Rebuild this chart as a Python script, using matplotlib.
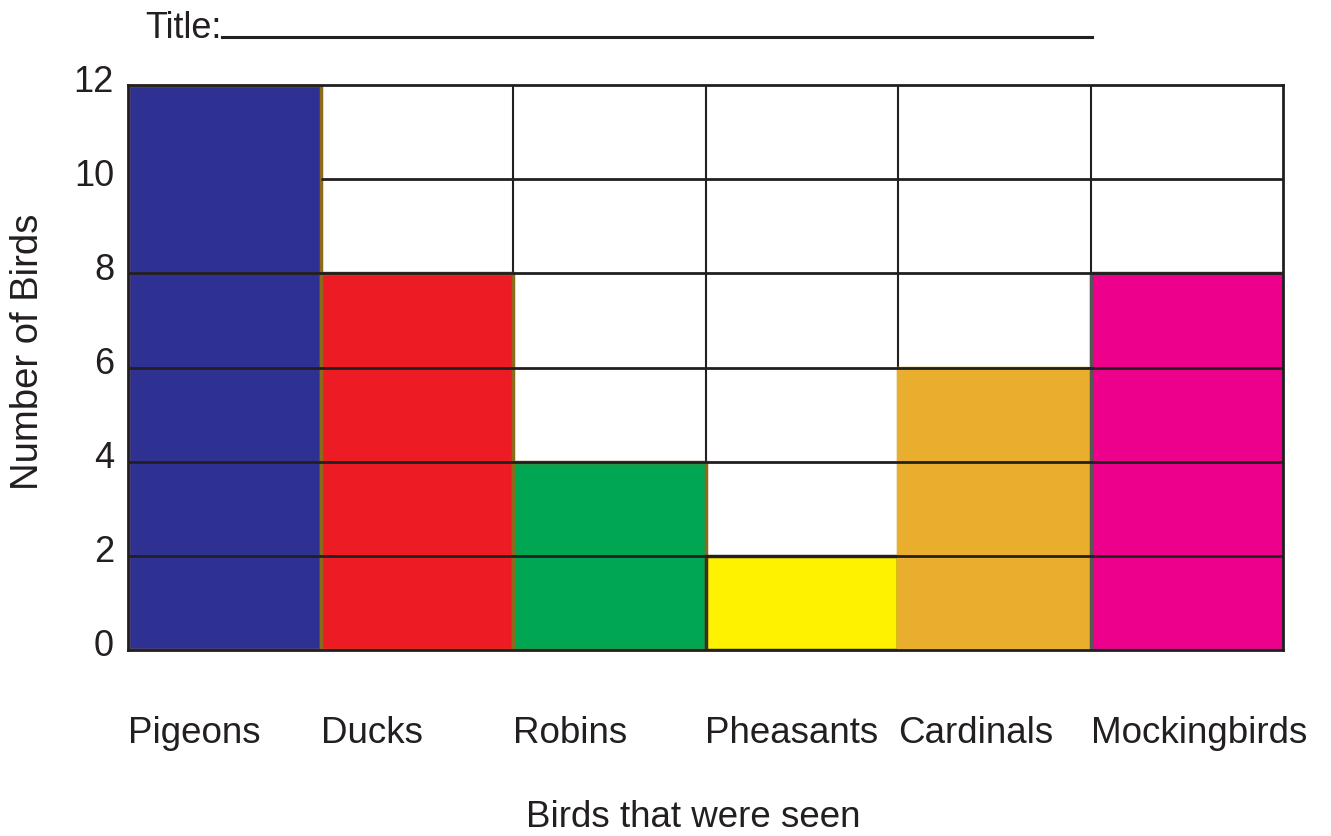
import matplotlib.pyplot as plt
from matplotlib.lines import Line2D
import matplotlib.transforms as mtransforms

plt.rcParams['font.family'] = ['Liberation Sans', 'DejaVu Sans']

# data
birds = ['Pigeons', 'Ducks', 'Robins', 'Pheasants', 'Cardinals', 'Mockingbirds']
counts = [12, 8, 4, 2, 6, 8]
bar_colors = ['#2e3192', '#ed1c24', '#00a651', '#fff200', '#e9ae2e', '#ec008c']
edge_colors = ['#8c6a1c', '#8c6a1c', '#8c6a1c', '#3a3220', '#e9ae2e', '#555555']
y_ticks = [0, 2, 4, 6, 8, 10, 12]

fig = plt.figure(figsize=(13.31, 8.37), dpi=100)
ax = fig.add_axes([128 / 1331, 1 - 651 / 837, (1283 - 128) / 1331, (651 - 86) / 837])

x_pos = [i + 0.5 for i in range(len(birds))]
ax.bar(x_pos, counts, width=1.0, color=bar_colors, edgecolor=edge_colors,
       linewidth=2.5, zorder=2)

# grid drawn on top of the bars, like the worksheet
for y in y_ticks[1:-1]:
    start = 1 if y == 10 else 0
    ax.hlines(y, start, len(birds), color='#231f20', linewidth=2, zorder=3)
ax.vlines(range(1, len(birds)), 0, 12, color='#231f20', linewidth=1.5, zorder=1)

ax.set_xlim(0, len(birds))
ax.set_ylim(0, 12)
for s in ax.spines.values():
    s.set_color('#231f20')
    s.set_linewidth(2)
    s.set_zorder(4)

# y tick labels sit a bit above their lines
ax.set_yticks(y_ticks)
ax.set_yticklabels([str(t) for t in y_ticks], fontsize=26, color='#231f20')
ax.tick_params(axis='y', length=0, pad=10)
offset = mtransforms.ScaledTranslation(0, 8 / 100, fig.dpi_scale_trans)
for lbl in ax.get_yticklabels():
    lbl.set_transform(lbl.get_transform() + offset)

# category labels start at the left edge of each column
ax.set_xticks(range(len(birds)))
ax.set_xticklabels(birds, fontsize=26.5, color='#231f20', ha='left')
ax.tick_params(axis='x', length=0, pad=47)

fig.text(28 / 1331, 1 - 352 / 837, 'Number of Birds', rotation=90,
         fontsize=27.5, color='#231f20', ha='center', va='center')
fig.text(693 / 1331, 1 - 818 / 837, 'Birds that were seen',
         fontsize=26.5, color='#231f20', ha='center', va='center')

# "Title:" with a blank line to write on
fig.text(145 / 1331, 1 - 38 / 837, 'Title:', fontsize=26, color='#231f20',
         ha='left', va='baseline')
fig.add_artist(Line2D([222 / 1331, 1092 / 1331], [1 - 38 / 837, 1 - 38 / 837],
                      color='#231f20', linewidth=2.2))

fig.savefig('out.png', dpi=100)
